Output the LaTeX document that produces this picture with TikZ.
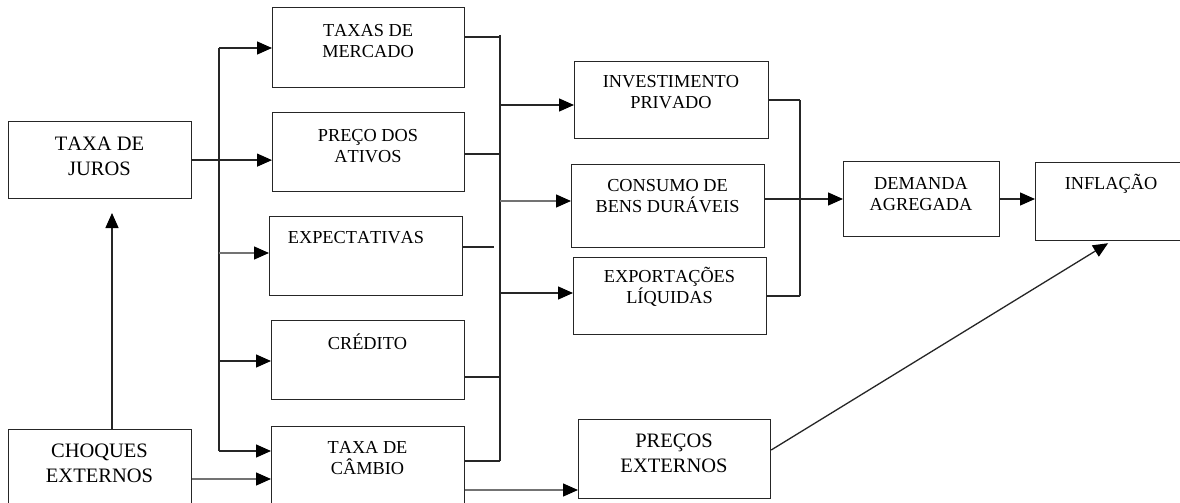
\documentclass[tikz,border=0pt]{standalone}
\usepackage{fontspec}
\setmainfont[Kerning=Off]{Liberation Serif}
\usetikzlibrary{arrows.meta}
\begin{document}
\begin{tikzpicture}[x=1pt,y=-1pt,
  bx/.style={draw=black!85,line width=1.2pt,inner sep=0pt,anchor=north west},
  txt/.style={align=center,inner sep=0pt,font=\fontsize{18.3}{20.5}\selectfont},
  txtw/.style={txt,font=\fontsize{20.5}{25}\selectfont},
  ln/.style={draw=black!85,line width=1.3pt},
  arr/.style={ln,-{Triangle[length=15pt,width=13pt,color=black]}},
  garr/.style={arr,draw=black!55}]
\useasboundingbox (0,0) rectangle (1180,503);
\clip (0,0) rectangle (1180,503);
\fill[white] (0,0) rectangle (1180,503);

% boxes
\node[bx,minimum width=183pt,minimum height=77pt] (juros)    at (8,121) {};
\node[bx,minimum width=192pt,minimum height=80pt] (mercado)  at (272,7) {};
\node[bx,minimum width=192pt,minimum height=79pt] (ativos)   at (272,112) {};
\node[bx,minimum width=193pt,minimum height=79pt] (expect)   at (269,216) {};
\node[bx,minimum width=193pt,minimum height=79pt] (credito)  at (271,320) {};
\node[bx,minimum width=193pt,minimum height=90pt] (cambio)   at (271,426) {};
\node[bx,minimum width=183pt,minimum height=90pt] (choques)  at (8,429) {};
\node[bx,minimum width=194pt,minimum height=77pt] (invest)   at (574,61) {};
\node[bx,minimum width=193pt,minimum height=83pt] (consumo)  at (571,164) {};
\node[bx,minimum width=193pt,minimum height=77pt] (export)   at (573,257) {};
\node[bx,minimum width=156pt,minimum height=75pt] (demanda)  at (843,161) {};
\node[bx,minimum width=155pt,minimum height=78pt] (inflacao) at (1035,162) {};
\node[bx,minimum width=192pt,minimum height=79pt] (precos)   at (578,419) {};

% texts
\node[txtw] (juros-t)    at (99.5,156) {TAXA DE\\JUROS};
\node[txt]  (mercado-t)  at (368,41) {TAXAS DE\\MERCADO};
\node[txt]  (ativos-t)   at (368,146) {PREÇO DOS\\ATIVOS};
\node[txt]  (expect-t)   at (356,238) {EXPECTATIVAS};
\node[txt]  (credito-t)  at (367.5,342) {CRÉDITO};
\node[txt]  (cambio-t)   at (367.5,458) {TAXA DE\\CÂMBIO};
\node[txtw] (choques-t)  at (99.5,463) {CHOQUES\\EXTERNOS};
\node[txt]  (invest-t)   at (671,92) {INVESTIMENTO\\PRIVADO};
\node[txt]  (consumo-t)  at (667.5,196) {CONSUMO DE\\BENS DURÁVEIS};
\node[txt]  (export-t)   at (669.5,287) {EXPORTAÇÕES\\LÍQUIDAS};
\node[txt]  (demanda-t)  at (921,194) {DEMANDA\\AGREGADA};
\node[txt]  (inflacao-t) at (1111,184) {INFLAÇÃO};
\node[txtw] (precos-t)   at (674,453) {PREÇOS\\EXTERNOS};

% left trunk
\coordinate (tl1) at (219,48);
\coordinate (tl2) at (219,451);
\coordinate (tle) at (219,253);
\coordinate (tlc) at (219,361);
\draw[ln] (tl1) -- (tl2);
\draw[arr] (tl1) -- (tl1 -| mercado.west);
\draw[arr] (juros.east) -- (juros.east -| ativos.west);
\draw[garr] (tle) -- (tle -| expect.west);
\draw[arr] (tlc) -- (tlc -| credito.west);
\draw[arr] (tl2) -- (tl2 -| cambio.west);
\draw[garr] (choques.east |- 0,479) -- (cambio.west |- 0,479);
\coordinate (up) at (112,213);
\draw[arr] (choques.north -| up) -- (up);

% first collector
\coordinate (c1a) at (500,35);
\coordinate (c1b) at (500,461);
\draw[ln] (c1a) -- (c1b);
\draw[ln] (mercado.east |- 0,37) -- (500,37);
\draw[ln] (ativos.east |- 0,154) -- (500,154);
\draw[ln] (expect.east |- 0,247) -- (494,247);
\draw[ln] (credito.east |- 0,377) -- (500,377);
\draw[ln] (cambio.east |- c1b) -- (c1b);
\draw[arr] (500,105) -- (invest.west |- 0,105);
\draw[garr] (500,201) -- (consumo.west |- 0,201);
\draw[arr] (500,293) -- (export.west |- 0,293);

% second collector
\draw[ln] (800,100) -- (800,296);
\draw[ln] (invest.east |- 0,100) -- (800,100);
\draw[ln] (export.east |- 0,296) -- (800,296);
\draw[arr] (consumo.east |- 0,199) -- (demanda.west |- 0,199);
\draw[arr] (demanda.east |- 0,199) -- (inflacao.west |- 0,199);

% external prices
\draw[garr] (cambio.east |- 0,490) -- (precos.west |- 0,490);
\draw[arr] (precos.east |- 0,450) -- ([xshift=-5pt,yshift=-2pt]inflacao.south);
\end{tikzpicture}
\end{document}
